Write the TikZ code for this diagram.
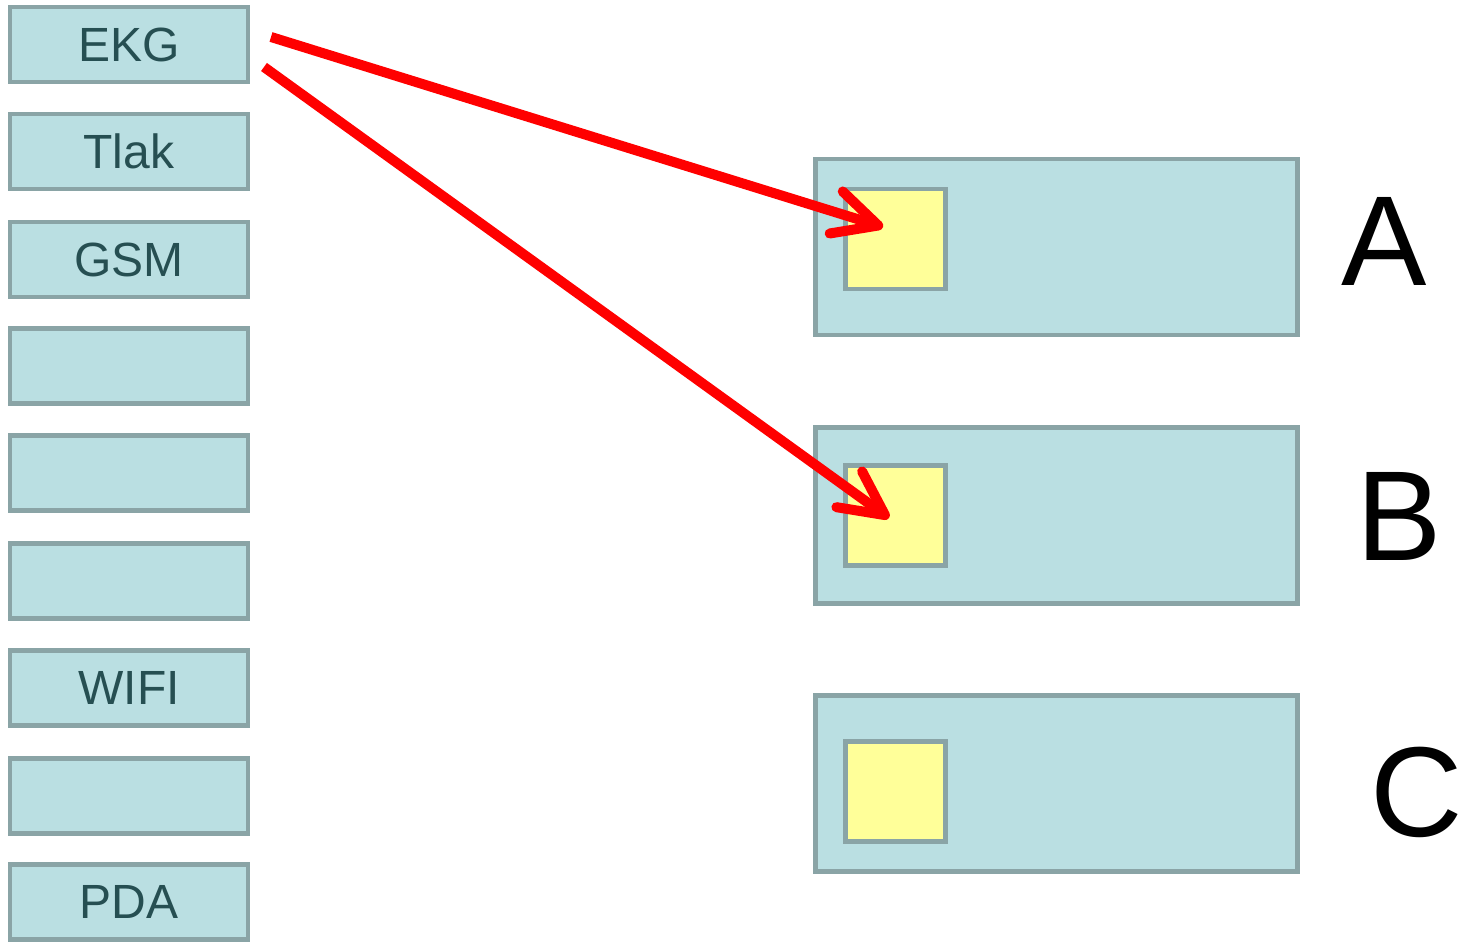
\documentclass[tikz,border=0pt]{standalone}
\usepackage{fontspec}
\setmainfont{Liberation Sans}
\usetikzlibrary{arrows.meta}
\definecolor{boxfill}{HTML}{BADFE2}
\definecolor{boxline}{HTML}{8AA4A6}
\definecolor{boxtext}{HTML}{264F52}
\definecolor{yel}{HTML}{FFFF99}
\begin{document}
\begin{tikzpicture}[x=1pt,y=-1pt,
  lbox/.style={draw=boxline,fill=boxfill,line width=4.5pt,minimum width=238pt,minimum height=75pt,inner sep=0pt,font=\fontsize{48}{52}\selectfont,text=boxtext},
  rbox/.style={draw=boxline,fill=boxfill,line width=4.5pt,minimum width=482pt,minimum height=176pt,inner sep=0pt},
  ybox/.style={draw=boxline,fill=yel,line width=4.5pt,minimum width=100pt,minimum height=100pt,inner sep=0pt},
  letter/.style={font=\fontsize{128}{130}\selectfont,text=black,inner sep=0pt},
  redarrow/.style={draw=red,line width=10pt,-{Straight Barb[length=44pt,width=44pt,round]}}]
\useasboundingbox (0,0) rectangle (1461,942);
\node[lbox] (ekg) at (129,44.5) {EKG};
\node[lbox] (tlak) at (129,151.5) {Tlak};
\node[lbox] (gsm) at (129,259.5) {GSM};
\node[lbox] (e4) at (129,366) {};
\node[lbox] (e5) at (129,473) {};
\node[lbox] (e6) at (129,581) {};
\node[lbox] (wifi) at (129,688) {WIFI};
\node[lbox] (e8) at (129,796) {};
\node[lbox] (pda) at (129,902) {PDA};
\node[rbox] (ra) at (1056.5,247) {};
\node[rbox] (rb) at (1056.5,515.5) {};
\node[rbox] (rc) at (1056.5,783.5) {};
\node[ybox] (ya) at (895.5,239) {};
\node[ybox] (yb) at (895.5,515.5) {};
\node[ybox] (yc) at (895.5,791.5) {};
\node[letter] (la) at (1384,241) {A};
\node[letter] (lb) at (1399,516) {B};
\node[letter] (lc) at (1417,792) {C};
\coordinate (s1) at ([shift={(142,-7.5)}]ekg.center);
\coordinate (s2) at ([shift={(135,22.5)}]ekg.center);
\coordinate (t1) at ([shift={(-12.5,-12)}]ya.center);
\coordinate (t2) at ([shift={(-6.5,2.5)}]yb.center);
\draw[redarrow] (s1) -- (t1);
\draw[redarrow] (s2) -- (t2);
\end{tikzpicture}
\end{document}
